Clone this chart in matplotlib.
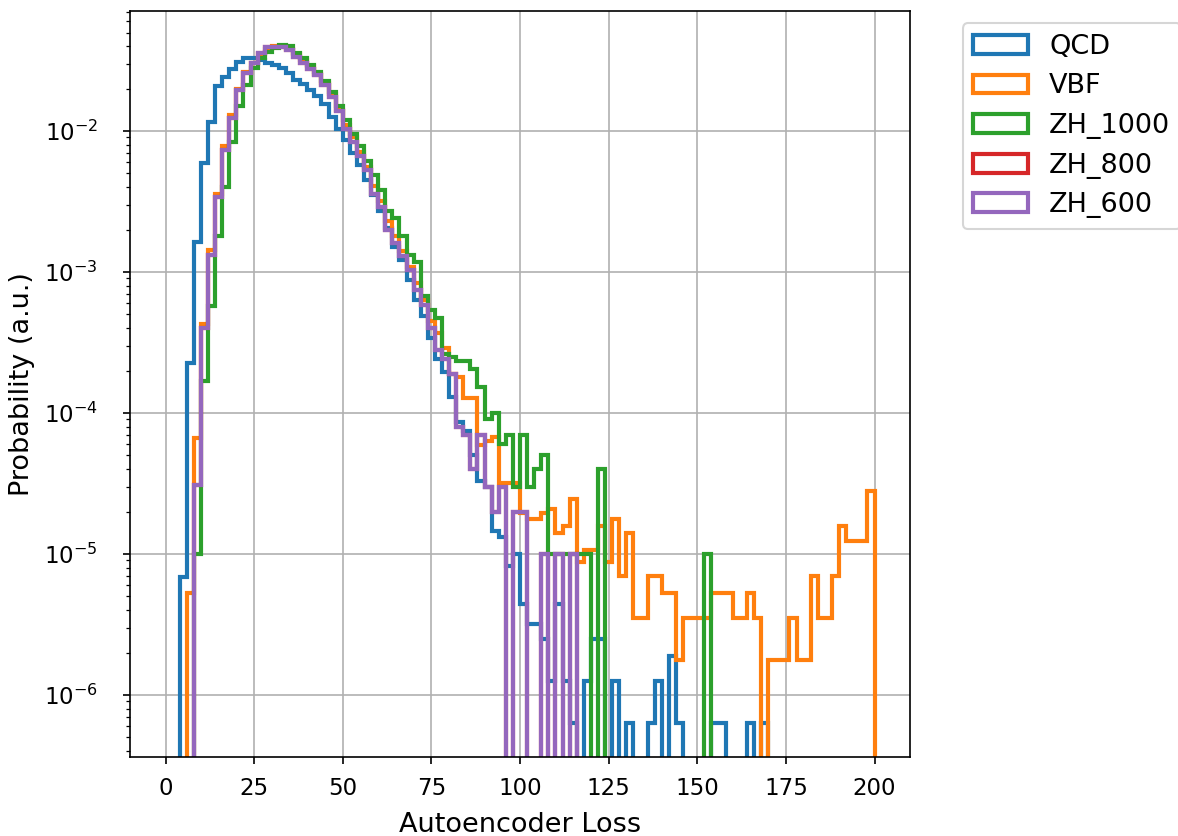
import numpy as np
import matplotlib
matplotlib.use("Agg")
from matplotlib import pyplot as plt

# 100 bins of width 2 between 0 and 200, values are normalised bin heights
edges = np.linspace(0, 200, 101)

qcd = [0, 0, 6.9e-6, 2.25e-4, 1.64e-3, 5.9e-3, 0.0116, 0.0210, 0.0240, 0.0277,
       0.0308, 0.0330, 0.0330, 0.0318, 0.0305, 0.0294, 0.0280, 0.0260, 0.0232, 0.0216,
       0.0195, 0.0178, 0.0155, 0.0126, 0.0104, 0.0086, 0.0070, 0.0057, 0.0045, 0.0035,
       0.0027, 0.00205, 0.0015, 0.00122, 8.8e-4, 6.3e-4, 4.9e-4, 3.4e-4, 2.4e-4, 1.95e-4,
       1.3e-4, 8.7e-5, 7.4e-5, 5.0e-5, 3.3e-5, 3.0e-5, 1.45e-5, 1.33e-5, 8.2e-6, 1.0e-5,
       4.4e-6, 3.2e-6, 3.2e-6, 2.5e-6, 1.26e-6, 4.4e-6, 1.26e-6, 6.3e-7, 0, 1.26e-6,
       2.5e-6, 2.5e-6, 0, 1.26e-6, 0, 6.3e-7, 0, 0, 6.3e-7, 1.26e-6,
       0, 1.9e-6, 6.3e-7, 0, 0, 0, 0, 6.3e-7, 6.3e-7, 0,
       0, 0, 6.3e-7, 0, 6.3e-7, 0, 0, 0, 0, 0,
       0, 0, 0, 0, 0, 0, 0, 0, 0, 0]

vbf = [0, 0, 0, 5.3e-6, 6.6e-5, 4.3e-4, 1.43e-3, 3.6e-3, 7.8e-3, 0.0130,
       0.0200, 0.0262, 0.0305, 0.0350, 0.0385, 0.0400, 0.0400, 0.0385, 0.0350, 0.0318,
       0.0287, 0.0255, 0.0218, 0.0182, 0.0142, 0.0110, 0.0090, 0.0071, 0.0056, 0.0041,
       0.0032, 0.0023, 0.0018, 0.0014, 0.00109, 8.3e-4, 6.3e-4, 4.5e-4, 3.7e-4, 2.9e-4,
       1.9e-4, 1.8e-4, 1.27e-4, 1.27e-4, 5.9e-5, 6.3e-5, 6.8e-5, 3.2e-5, 3.2e-5, 3.2e-5,
       1.94e-5, 1.76e-5, 1.76e-5, 1.94e-5, 2.1e-5, 1.4e-5, 1.58e-5, 2.46e-5, 8.8e-6, 1.06e-5,
       1.06e-5, 1.58e-5, 8.8e-6, 1.76e-5, 7.0e-6, 1.4e-5, 3.5e-6, 3.5e-6, 7.0e-6, 7.0e-6,
       5.3e-6, 5.3e-6, 1.76e-6, 3.5e-6, 3.5e-6, 3.5e-6, 3.5e-6, 5.3e-6, 5.3e-6, 5.3e-6,
       3.5e-6, 3.5e-6, 5.3e-6, 3.5e-6, 0, 1.76e-6, 1.76e-6, 1.76e-6, 3.5e-6, 1.76e-6,
       1.76e-6, 7.0e-6, 3.5e-6, 3.5e-6, 7.0e-6, 1.58e-5, 1.23e-5, 1.23e-5, 1.23e-5, 2.8e-5]

zh1000 = [0, 0, 0, 0, 1.0e-5, 1.7e-4, 5.7e-4, 1.8e-3, 4.0e-3, 8.4e-3,
          0.0150, 0.0212, 0.0278, 0.0328, 0.0365, 0.0390, 0.0410, 0.0400, 0.0360, 0.0330,
          0.0295, 0.0262, 0.0225, 0.0190, 0.0150, 0.0120, 0.0096, 0.0078, 0.0061, 0.0049,
          0.0038, 0.0027, 0.0024, 0.0018, 0.00132, 0.00117, 6.8e-4, 5.4e-4, 4.7e-4, 2.6e-4,
          2.5e-4, 2.35e-4, 2.35e-4, 2.05e-4, 1.52e-4, 9e-5, 1e-4, 6e-5, 7e-5, 3e-5,
          7e-5, 3e-5, 4e-5, 5e-5, 1e-5, 1e-5, 1e-5, 1e-5, 1e-5, 1e-5,
          0, 4e-5, 0, 0, 0, 0, 0, 0, 0, 0,
          0, 0, 0, 0, 0, 0, 1e-5, 0, 0, 0,
          0, 0, 0, 0, 0, 0, 0, 0, 0, 0,
          0, 0, 0, 0, 0, 0, 0, 0, 0, 0]

zh600 = [0, 0, 0, 0, 3.1e-5, 4.0e-4, 1.32e-3, 3.4e-3, 7.3e-3, 0.0123,
         0.0195, 0.0257, 0.0302, 0.0356, 0.0396, 0.0396, 0.0396, 0.0375, 0.0337, 0.0302,
         0.0274, 0.0249, 0.0212, 0.0175, 0.0138, 0.0104, 0.0084, 0.0066, 0.0053, 0.0036,
         0.0029, 0.0020, 0.0016, 0.00129, 0.00103, 7.4e-4, 5.8e-4, 4.0e-4, 2.8e-4, 2.4e-4,
         1.9e-4, 8e-5, 7e-5, 4e-5, 7e-5, 3e-5, 2e-5, 3e-5, 0, 2e-5,
         2e-5, 0, 0, 1e-5, 0, 1e-5, 0, 1e-5, 0, 0,
         0, 0, 0, 0, 0, 0, 0, 0, 0, 0,
         0, 0, 0, 0, 0, 0, 0, 0, 0, 0,
         0, 0, 0, 0, 0, 0, 0, 0, 0, 0,
         0, 0, 0, 0, 0, 0, 0, 0, 0, 0]

# ZH_800 is completely covered by the ZH_600 line in the picture
zh800 = list(zh600)

samples = ["QCD", "VBF", "ZH_1000", "ZH_800", "ZH_600"]
heights = [qcd, vbf, zh1000, zh800, zh600]

fig = plt.figure(figsize=(1178 / 150, 836 / 150), dpi=150)
ax = fig.add_axes([0.1104, 0.0945, 0.6621, 0.8923])

for name, h in zip(samples, heights):
    ax.hist(edges[:-1], bins=edges, weights=h, histtype="step", linewidth=2, label=name)

ax.set_yscale("log")
ax.set_xlim(-10, 210)
ax.set_ylim(3.63e-7, 0.071)
ax.grid(True)
ax.set_axisbelow(True)
ax.tick_params(labelsize=11)
ax.tick_params(axis="x", pad=6)
ax.tick_params(axis="y", which="major", pad=12)
ax.set_xlabel("Autoencoder Loss", fontsize=13, labelpad=6)
ax.set_ylabel("Probability (a.u.)", fontsize=13)
ax.legend(bbox_to_anchor=(1.05, 1.002), loc="upper left", fontsize=13)

fig.savefig("out.png", dpi=150)
